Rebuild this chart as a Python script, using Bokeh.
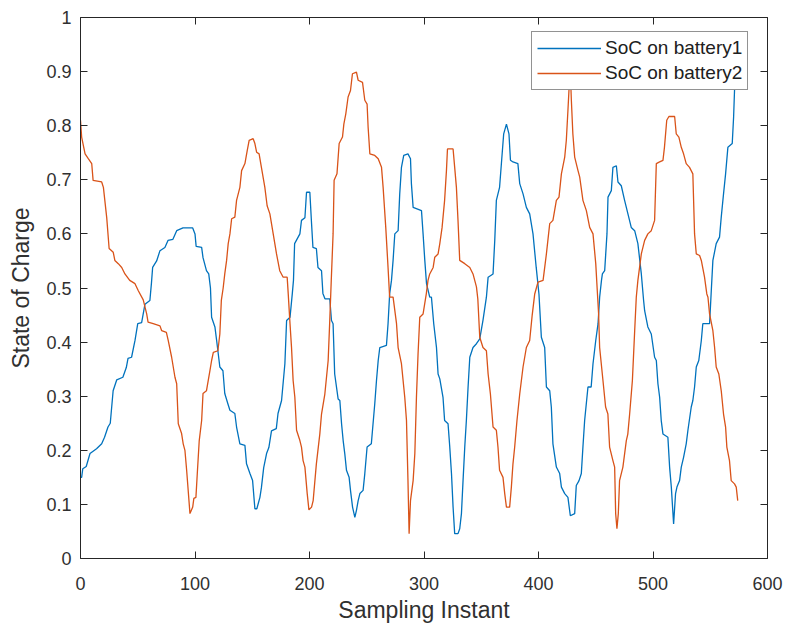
from bokeh.plotting import figure
from bokeh.models import LinearAxis, FixedTicker
from bokeh.embed import file_html
from bokeh.resources import INLINE

# ---------------- data ----------------
blue_x = [0, 1, 2, 5, 8.3, 14, 18.5, 21, 24, 26, 28.5, 31.6, 37, 40, 41.5, 44.6, 47.6, 50, 53.4, 56.3,
          60.6, 62, 63, 66.5, 69.4, 73.7, 76.4, 80.7, 84, 89.5, 98, 100, 101, 105.8, 107, 110, 112, 113.5,
          114.5, 117.4, 118.9, 121.7, 124.4, 126, 128.7, 130.5, 134.8, 136.3, 139.2, 143.6, 145, 148, 150.3,
          152.3, 154, 156.7, 158, 160, 162.5, 164.5, 166.8, 171, 172.5, 175.6, 178.5, 180, 183, 185, 186,
          187, 191.6, 193, 196, 197.4, 200.3, 201.8, 203, 206, 207.4, 210.5, 211.7, 213.5, 217.7, 219.2,
          220.6, 222, 225, 226.5, 228, 229.4, 230.8, 232.3, 234.6, 235.8, 237.6, 239.6, 241, 242.5, 244,
          246.8, 248.3, 250.3, 254, 255.5, 257, 258.5, 260, 261.4, 267.2, 268.6, 270, 271.6, 273, 274.5,
          277.4, 278.8, 280.3, 282.3, 286, 288.2, 289, 290.5, 297.8, 299.2, 300.7, 302.2, 305, 306.5, 308.5,
          310.9, 312.3, 313.8, 316.6, 318, 321, 322.5, 324, 325.4, 326.8, 329.7, 331.2, 332.7, 334.1, 335.6,
          337, 338.5, 340, 342.8, 345.8, 348.7, 351.5, 354.5, 356, 360.3, 361.8, 363.2, 366, 367.6, 369.6,
          372, 374.2, 375.5, 377.7, 382, 383.6, 386.5, 389.4, 392.3, 395.2, 398, 400.4, 402.5, 405.4, 406.9,
          409.8, 411.2, 412.6, 415.6, 418.5, 420, 422.9, 425.7, 427.8, 431.6, 433, 435.4, 437.4, 438.8, 440.3,
          443.2, 446, 447.6, 450, 452, 453.4, 455, 455.8, 457.8, 459.8, 460.7, 463.6, 465, 468, 469.4, 472.3,
          475.2, 478.1, 481, 484, 486.8, 489.8, 491.8, 492.7, 495.5, 498.5, 501.4, 502.9, 504.3, 505.8, 507.2,
          508.7, 513, 514.5, 516, 518, 519.7, 520.9, 523.2, 524.7, 526.7, 529, 530.5, 533.4, 534.8, 536.3,
          537.8, 540, 542.2, 543.5, 549.4, 550.9, 552.3, 555.2, 558.1, 559.6, 561.6, 563.4, 565.4, 569.2,
          570.4, 571.2, 574]
blue_y = [0.15, 0.15, 0.166, 0.17, 0.194, 0.203, 0.212, 0.224, 0.243, 0.25, 0.31, 0.33, 0.335, 0.353, 0.37,
          0.372, 0.403, 0.434, 0.436, 0.47, 0.477, 0.51, 0.538, 0.55, 0.569, 0.575, 0.588, 0.59, 0.606, 0.611,
          0.611, 0.6, 0.577, 0.575, 0.556, 0.532, 0.526, 0.5, 0.446, 0.428, 0.403, 0.354, 0.347, 0.305, 0.286,
          0.274, 0.268, 0.243, 0.212, 0.209, 0.175, 0.157, 0.144, 0.092, 0.092, 0.113, 0.131, 0.168, 0.194,
          0.205, 0.236, 0.24, 0.268, 0.292, 0.36, 0.44, 0.446, 0.49, 0.514, 0.582, 0.6, 0.625, 0.63, 0.677,
          0.677, 0.619, 0.575, 0.573, 0.538, 0.532, 0.49, 0.48, 0.48, 0.44, 0.434, 0.341, 0.295, 0.292, 0.249,
          0.218, 0.194, 0.163, 0.15, 0.126, 0.095, 0.076, 0.089, 0.107, 0.12, 0.126, 0.157, 0.206, 0.212,
          0.249, 0.286, 0.329, 0.366, 0.39, 0.394, 0.434, 0.489, 0.514, 0.551, 0.6, 0.606, 0.674, 0.723, 0.745,
          0.748, 0.739, 0.693, 0.649, 0.643, 0.6, 0.551, 0.508, 0.483, 0.483, 0.434, 0.39, 0.341, 0.332, 0.298,
          0.255, 0.249, 0.206, 0.157, 0.095, 0.046, 0.046, 0.055, 0.083, 0.144, 0.206, 0.255, 0.317, 0.372,
          0.39, 0.397, 0.406, 0.44, 0.483, 0.52, 0.526, 0.588, 0.662, 0.686, 0.73, 0.785, 0.803, 0.785, 0.736,
          0.733, 0.73, 0.693, 0.674, 0.649, 0.637, 0.6, 0.538, 0.489, 0.409, 0.39, 0.317, 0.31, 0.28, 0.212,
          0.169, 0.157, 0.132, 0.12, 0.113, 0.079, 0.083, 0.135, 0.144, 0.157, 0.206, 0.255, 0.317, 0.317,
          0.36, 0.403, 0.434, 0.483, 0.514, 0.526, 0.532, 0.6, 0.668, 0.68, 0.723, 0.726, 0.696, 0.689, 0.662,
          0.637, 0.612, 0.606, 0.582, 0.526, 0.477, 0.458, 0.428, 0.415, 0.372, 0.366, 0.323, 0.298, 0.255,
          0.23, 0.224, 0.169, 0.132, 0.064, 0.12, 0.132, 0.144, 0.169, 0.187, 0.212, 0.237, 0.28, 0.292, 0.317,
          0.354, 0.366, 0.403, 0.434, 0.434, 0.495, 0.551, 0.582, 0.594, 0.631, 0.674, 0.711, 0.76, 0.767,
          0.816, 0.865, 0.93]

orange_x = [0, 1, 4, 6.8, 9.8, 11, 18.5, 20, 22.9, 25, 28.6, 30, 33, 36, 38.8, 43, 47.6, 50.5, 54.8, 57.8,
            59, 63.5, 69.4, 70.9, 75, 76.6, 79.6, 82.5, 84, 85.4, 88.3, 89.7, 91.2, 92.7, 95.6, 98, 99, 100.8,
            102, 103.7, 105.8, 107, 110, 113, 114.5, 116, 120, 121.7, 123, 124.6, 126, 127.6, 129, 130.5, 132,
            134.8, 136.3, 139.2, 140.7, 143.6, 145.6, 147.3, 150.8, 152.3, 153.8, 156, 158, 161, 163, 165.4,
            168.3, 171.2, 174, 177, 180.5, 181.4, 182.8, 184.3, 185.7, 187.2, 188.7, 191.6, 193, 194.4, 196,
            198, 199.5, 201.8, 203.2, 206, 209, 210.5, 213.4, 216.3, 217.7, 219, 220.6, 221.5, 224, 225.9,
            228.8, 230, 231.7, 233.7, 235.8, 237.5, 241, 242.5, 246.3, 248.3, 250.3, 251.2, 252.7, 257, 260,
            262.9, 264.3, 266.6, 268.6, 270, 273, 276, 277.4, 280.3, 283.2, 284.7, 286, 287, 288.2, 290.5, 292,
            293.4, 294.8, 296.3, 299.2, 302, 303.5, 305, 308, 309.4, 312.3, 313.8, 315.8, 318, 319.6, 320.5,
            325.4, 326.8, 328.3, 329.7, 331.2, 335.6, 340, 342.8, 345.8, 347, 348.7, 351.5, 354.5, 356, 358,
            360.3, 363.2, 364.6, 366, 369, 370.5, 372, 374.8, 376.3, 377.7, 379.2, 381.2, 383.6, 386.5, 389.4,
            392.3, 394.5, 396.7, 399.6, 404, 406.9, 409.8, 412.6, 415.6, 417.9, 420, 422.9, 424.3, 425.7,
            426.6, 427.8, 428.7, 430, 431.6, 434.5, 436, 438.8, 441.8, 444.7, 447.6, 450, 451.5, 452.5, 453.4,
            456.3, 458.6, 460.6, 462.1, 465, 466.5, 467.4, 468.5, 469.7, 470.8, 473.7, 476.7, 478, 479.6, 482,
            484, 485.4, 486.8, 489.8, 492.7, 495.5, 498.5, 501.4, 502.9, 505.8, 508.7, 510, 512, 513.9, 518.9,
            520.3, 522.6, 524.7, 526.7, 529, 531.9, 534.8, 536.3, 537.8, 540.7, 542.2, 545, 547, 548, 549.4,
            552.3, 553.8, 555.2, 557.5, 559.6, 561.6, 563.4, 564.5, 566.8, 568.3, 571.2, 572.7, 574]
orange_y = [0.81, 0.779, 0.748, 0.739, 0.73, 0.699, 0.696, 0.686, 0.63, 0.573, 0.566, 0.551, 0.545, 0.538,
            0.526, 0.514, 0.508, 0.495, 0.478, 0.452, 0.437, 0.434, 0.43, 0.421, 0.418, 0.403, 0.372, 0.335,
            0.323, 0.249, 0.231, 0.212, 0.2, 0.163, 0.083, 0.095, 0.111, 0.113, 0.157, 0.218, 0.255, 0.305,
            0.31, 0.347, 0.366, 0.381, 0.384, 0.415, 0.477, 0.5, 0.526, 0.551, 0.582, 0.6, 0.628, 0.631, 0.662,
            0.686, 0.717, 0.73, 0.754, 0.773, 0.776, 0.767, 0.751, 0.748, 0.723, 0.686, 0.652, 0.637, 0.6,
            0.563, 0.532, 0.52, 0.52, 0.49, 0.44, 0.39, 0.329, 0.298, 0.237, 0.218, 0.206, 0.181, 0.169, 0.12,
            0.09, 0.095, 0.107, 0.175, 0.23, 0.267, 0.304, 0.366, 0.44, 0.514, 0.6, 0.699, 0.711, 0.767, 0.779,
            0.803, 0.822, 0.853, 0.865, 0.896, 0.899, 0.884, 0.88, 0.847, 0.84, 0.797, 0.748, 0.745, 0.739,
            0.723, 0.686, 0.612, 0.538, 0.483, 0.483, 0.434, 0.39, 0.36, 0.298, 0.255, 0.144, 0.046, 0.107,
            0.144, 0.194, 0.298, 0.378, 0.446, 0.452, 0.489, 0.514, 0.526, 0.538, 0.557, 0.563, 0.582, 0.612,
            0.662, 0.717, 0.757, 0.757, 0.723, 0.686, 0.625, 0.551, 0.545, 0.538, 0.526, 0.502, 0.48, 0.409,
            0.39, 0.384, 0.341, 0.304, 0.243, 0.237, 0.206, 0.163, 0.15, 0.12, 0.095, 0.095, 0.132, 0.175,
            0.206, 0.255, 0.304, 0.354, 0.39, 0.403, 0.45, 0.489, 0.511, 0.514, 0.563, 0.619, 0.625, 0.662,
            0.668, 0.711, 0.742, 0.773, 0.828, 0.865, 0.9, 0.847, 0.785, 0.742, 0.717, 0.705, 0.662, 0.643,
            0.612, 0.6, 0.545, 0.489, 0.452, 0.39, 0.329, 0.28, 0.267, 0.206, 0.181, 0.169, 0.083, 0.055, 0.083,
            0.144, 0.169, 0.218, 0.23, 0.267, 0.329, 0.421, 0.483, 0.514, 0.563, 0.588, 0.6, 0.606, 0.625, 0.73,
            0.733, 0.736, 0.76, 0.81, 0.817, 0.817, 0.785, 0.779, 0.76, 0.748, 0.73, 0.723, 0.711, 0.6, 0.563,
            0.56, 0.551, 0.52, 0.489, 0.483, 0.452, 0.421, 0.39, 0.354, 0.341, 0.31, 0.267, 0.243, 0.206, 0.181,
            0.144, 0.138, 0.132, 0.107]

series_names = ["SoC on battery1", "SoC on battery2"]
x_ticks = [0, 100, 200, 300, 400, 500, 600]
x_tick_labels = ["0", "100", "200", "300", "400", "500", "600"]
y_ticks = [0, 0.1, 0.2, 0.3, 0.4, 0.5, 0.6, 0.7, 0.8, 0.9, 1.0]
y_tick_labels = ["0", "0.1", "0.2", "0.3", "0.4", "0.5", "0.6", "0.7", "0.8", "0.9", "1"]
x_label = "Sampling Instant"
y_label = "State of Charge"

# ---------------- styling ----------------
BLUE = "#0072BD"
ORANGE = "#D95319"
AX = "#262626"
TXT = "#303030"
FONT = "Liberation Sans"

p = figure(width=785, height=626, x_range=(0, 600), y_range=(0, 1),
           output_backend="svg", toolbar_location=None,
           min_border_left=80, min_border_right=18, min_border_top=17, min_border_bottom=68)

p.line(blue_x, blue_y, line_color=BLUE, line_width=1.3, legend_label=series_names[0])
p.line(orange_x, orange_y, line_color=ORANGE, line_width=1.3, legend_label=series_names[1])

p.xgrid.visible = False
p.ygrid.visible = False
p.outline_line_color = None
p.background_fill_color = "white"
p.border_fill_color = "white"


def style_axis(ax, ticks, labels, show_labels=True):
    ax.ticker = FixedTicker(ticks=ticks)
    ax.axis_line_color = AX
    ax.axis_line_width = 1
    ax.major_tick_line_color = AX
    ax.major_tick_in = 7
    ax.major_tick_out = 0
    ax.minor_tick_line_color = None
    ax.major_label_text_font = FONT
    ax.major_label_text_color = TXT
    ax.major_label_text_font_size = "18px"
    if show_labels:
        ax.major_label_overrides = {t: l for t, l in zip(ticks, labels)}
    else:
        ax.major_label_overrides = {t: "" for t in ticks}
        ax.major_label_standoff = 0


xa = p.xaxis[0]
ya = p.yaxis[0]
style_axis(xa, x_ticks, x_tick_labels)
style_axis(ya, y_ticks, y_tick_labels)
xa.major_label_standoff = 18
ya.major_label_standoff = 9
xa.axis_label = x_label
ya.axis_label = y_label
for ax in (xa, ya):
    ax.axis_label_text_font = FONT
    ax.axis_label_text_font_size = "23px"
    ax.axis_label_text_font_style = "normal"
    ax.axis_label_text_color = TXT
xa.axis_label_standoff = 4
ya.axis_label_standoff = 9

top = LinearAxis()
right = LinearAxis()
style_axis(top, x_ticks, x_tick_labels, show_labels=False)
style_axis(right, y_ticks, y_tick_labels, show_labels=False)
p.add_layout(top, "above")
p.add_layout(right, "right")

lg = p.legend[0]
lg.location = (451, 468)
lg.border_line_color = AX
lg.border_line_width = 1
lg.background_fill_color = "white"
lg.background_fill_alpha = 1
lg.label_text_font = FONT
lg.label_text_font_size = "19px"
lg.label_text_color = "#202020"
lg.glyph_width = 64
lg.glyph_height = 20
lg.label_height = 20
lg.spacing = 3
lg.padding = 5
lg.label_standoff = 4
lg.margin = 0

open("out.html", "w").write(file_html(p, INLINE))
